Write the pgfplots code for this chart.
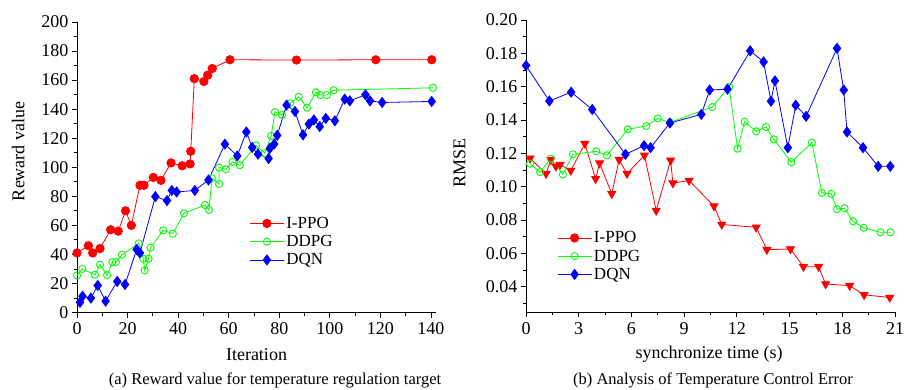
\documentclass[border=0pt]{standalone}
\usepackage{fontspec}
\setmainfont{Liberation Serif}
\usepackage{pgfplots}
\pgfplotsset{compat=1.18}
\definecolor{cR}{RGB}{255,0,0}
\definecolor{cG}{RGB}{0,255,0}
\definecolor{cB}{RGB}{0,0,255}
\newcommand{\fs}{\fontsize{18bp}{20bp}\selectfont}
\newcommand{\fl}{\fontsize{17bp}{19bp}\selectfont}
\pgfplotsset{
  base/.style={
    scale only axis,
    axis x line*=bottom, axis y line*=left,
    tick align=outside,
    major tick length=5bp, minor tick length=3bp,
    minor x tick num=1, minor y tick num=1,
    tick style={black, line width=0.8bp},
    axis line style={line width=0.8bp},
    /pgf/number format/assume math mode=true,
    tick label style={font=\fs},
    xticklabel style={yshift=-2bp},
    label style={font=\fs},
    clip=false,
    legend cell align=left,
    legend style={draw=none, fill=none, font=\fl, row sep=1.5bp, inner sep=0pt},
    legend image code/.code={\draw[mark repeat=2,mark phase=2] plot coordinates {(0bp,0bp) (17bp,0bp) (34bp,0bp)};},
  },
  sR/.style={cR, line width=0.8bp, mark=*, mark size=4.2bp, mark options={fill=cR, draw=cR}},
  sG/.style={cG, line width=0.8bp, mark=o, mark size=3.6bp, mark options={draw=cG, fill=white, line width=0.9bp}},
  sB/.style={cB, line width=0.8bp, mark=diamond*, mark size=5bp, mark options={fill=cB, draw=cB}},
  sT/.style={cR, line width=0.8bp, mark=triangle*, mark size=4.6bp, mark options={fill=cR, draw=cR, rotate=180}},
}
\begin{document}
\begin{tikzpicture}
\path[use as bounding box] (0,0) rectangle (906bp,390bp);
\begin{axis}[base,
  at={(77bp,77.5bp)}, anchor=south west,
  width=359bp, height=290.5bp,
  xmin=0, xmax=142, ymin=0, ymax=200,
  xtick={0,20,...,140}, ytick={0,20,...,200},
  xlabel={Iteration}, ylabel={Reward value},
  xlabel style={at={(axis description cs:0.5,-0.146)}, anchor=center},
  ylabel style={at={(axis description cs:-0.164,0.555)}, anchor=center},
  legend style={at={(axis description cs:0.48,0.336)}, anchor=north west},
]
\addplot[sR] coordinates {(0,41) (4.5,46) (6.2,41) (9.1,44) (13.3,57) (16.3,56) (19.2,70) (21.5,60) (24.9,87.6) (26.5,87.6) (30.2,93) (33.2,91) (37.2,103) (41.6,101) (44.7,102.3) (45,111) (46.4,161) (50.2,159) (51.7,163.4) (53.5,168) (60.5,174) (86.8,173.8) (118.2,174) (140.3,174)};
\addplot[sG] coordinates {(0,25.5) (2.1,30) (7.1,26) (9.1,33) (11.9,25.7) (14,34.7) (15.4,34.7) (17.8,39.8) (24.4,47.6) (26.2,37) (26.8,29) (28.3,37) (29.1,44.6) (34.1,56.6) (37.9,54.3) (42.3,68.3) (50.6,74) (52.2,70.6) (53.4,92.4) (56.2,88.5) (56.2,99.8) (58.9,98.6) (61.5,103.7) (64.4,101.4) (70.8,115) (74.3,109.7) (76.8,121.6) (78.3,138) (81.1,136) (84.3,144) (87.7,148.5) (91,141) (94.5,151.5) (96.2,149.7) (98.8,149.7) (101.5,153) (140.8,154.7)};
\addplot[sB] coordinates {(1.2,7) (2.2,11.2) (5.5,9.9) (8.2,18.6) (11.3,7.8) (15.9,21.4) (19,19.3) (23.6,43.4) (24.9,41) (31,79.8) (35.6,77) (37.5,84) (39.4,83) (46.6,84) (52,91.2) (58.5,115.9) (63.4,107.8) (67,124.3) (69.3,113.6) (71.6,109) (75.8,106) (76.3,113) (78,116) (79.2,122) (82.9,142.8) (86.2,138.4) (89.4,122.3) (91.7,129.7) (93.7,132.6) (96,128) (98.4,133.6) (102,132) (105.9,146.9) (107.9,145.7) (114.1,149.9) (115.9,145.7) (120.7,144.6) (140.3,145.3)};
\legend{I-PPO, DDPG, DQN}
\end{axis}
\begin{axis}[base,
  at={(526bp,78bp)}, anchor=south west,
  width=369bp, height=292bp,
  xmin=0, xmax=21, ymin=0.0248, ymax=0.2,
  xtick={0,3,...,21}, ytick={0.04,0.06,...,0.2},
  minor ytick={0.03,0.05,...,0.19},
  yticklabel style={/pgf/number format/fixed, /pgf/number format/fixed zerofill, /pgf/number format/precision=2},
  xlabel={synchronize time (s)}, ylabel={RMSE},
  xlabel style={at={(axis description cs:0.496,-0.145)}, anchor=center},
  ylabel style={at={(axis description cs:-0.18,0.51)}, anchor=center},
  legend style={at={(axis description cs:0.084,0.283)}, anchor=north west},
]
\addlegendimage{sR}
\addplot[sT, forget plot] coordinates {(0.23,0.117) (1.14,0.1078) (1.41,0.1162) (1.7,0.1122) (1.94,0.1132) (2.55,0.1097) (3.35,0.1258) (3.96,0.1047) (4.19,0.1141) (4.88,0.0957) (5.3,0.1162) (5.75,0.1078) (6.74,0.1188) (7.41,0.0857) (8.23,0.1158) (8.36,0.1021) (9.28,0.1037) (10.7,0.0883) (11.14,0.0773) (13.1,0.0756) (13.71,0.0622) (15.05,0.0626) (15.79,0.052) (16.65,0.052) (17.05,0.0416) (18.42,0.0406) (19.24,0.0351) (20.7,0.0335)};
\addplot[sG] coordinates {(0.23,0.1138) (0.8,0.1087) (1.41,0.1168) (2.1,0.1073) (2.67,0.1194) (4.0,0.1212) (4.61,0.1188) (5.79,0.1344) (6.84,0.1364) (7.5,0.1409) (8.2,0.1385) (10.6,0.1478) (11.56,0.1599) (12.04,0.1228) (12.44,0.139) (13.1,0.1332) (13.66,0.1358) (14.1,0.1284) (15.1,0.1147) (16.27,0.1264) (16.84,0.0963) (17.37,0.0957) (17.7,0.0865) (18.13,0.0871) (18.61,0.0792) (19.22,0.0753) (20.17,0.0726) (20.74,0.0726)};
\addplot[sB] coordinates {(0,0.1727) (1.33,0.1514) (2.57,0.1567) (3.77,0.1463) (5.66,0.1194) (6.72,0.1246) (7.09,0.1234) (8.19,0.1382) (9.98,0.1434) (10.45,0.158) (11.47,0.1585) (12.76,0.1815) (13.52,0.1749) (13.94,0.1513) (14.17,0.1635) (14.9,0.1234) (15.35,0.1489) (15.94,0.1422) (17.7,0.183) (18.08,0.158) (18.27,0.1328) (19.18,0.1234) (20.04,0.1122) (20.73,0.1122)};
\legend{I-PPO, DDPG, DQN}
\end{axis}
\node[font=\fontsize{16.5bp}{18bp}\selectfont, anchor=center] at (275bp,10bp) {(a) Reward value for temperature regulation target};
\node[font=\fontsize{16.5bp}{18bp}\selectfont, anchor=center] at (713bp,10bp) {(b) Analysis of Temperature Control Error};
\end{tikzpicture}
\end{document}
